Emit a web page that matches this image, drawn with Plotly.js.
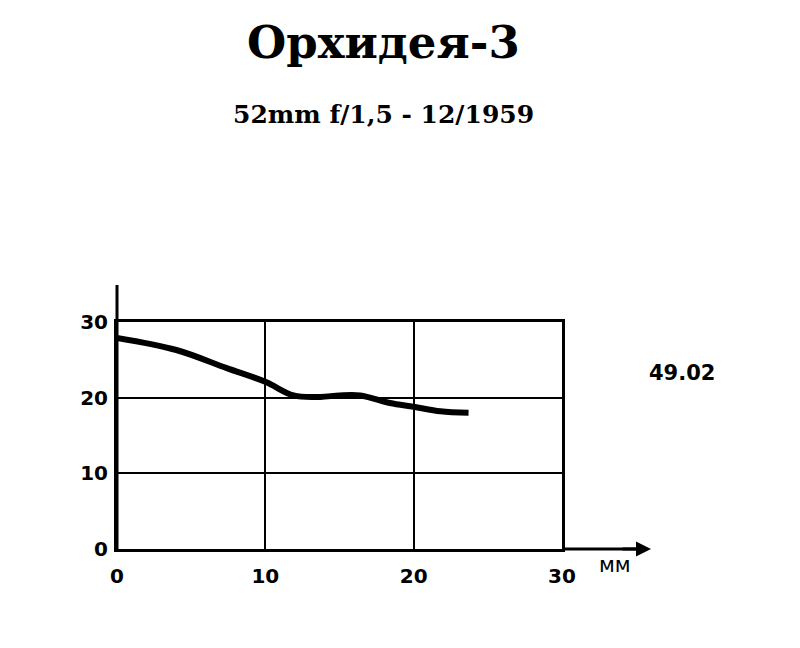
<!DOCTYPE html>
<html>
<head>
<meta charset="utf-8">
<script src="https://cdn.plot.ly/plotly-3.0.1.min.js"></script>
<style>html,body{margin:0;padding:0;background:#fff;}#chart{width:800px;height:648px;}</style>
</head>
<body>
<div id="chart"></div>
<script>
const fieldMm = [0, 4.0, 7.4, 10.0, 11.9, 13.7, 15.0, 16.4, 18.4, 20.0, 21.8, 23.7];
const resolution = [27.9, 26.3, 23.9, 22.1, 20.3, 20.1, 20.3, 20.3, 19.3, 18.8, 18.2, 18.0];
const xTicks = [0, 10, 20, 30];
const yTicks = [0, 10, 20, 30];
const titleText = "Орхидея-3";
const subtitleText = "52mm f/1,5 - 12/1959";
const noteText = "49.02";
const unitText = "мм";

const handFont = {family: "DejaVu Sans", size: 20, color: "#000", weight: "bold"};

const trace = {
  x: fieldMm, y: resolution, type: "scatter", mode: "lines",
  line: {color: "#000", width: 6, shape: "spline", smoothing: 1.0},
  hoverinfo: "skip", showlegend: false
};

const layout = {
  width: 800, height: 648,
  paper_bgcolor: "#fff", plot_bgcolor: "#fff",
  margin: {l: 117, r: 238, t: 322, b: 99},
  showlegend: false,
  xaxis: {
    range: [0, 30], tickvals: xTicks, ticktext: xTicks.map(String),
    showgrid: true, gridcolor: "#000", gridwidth: 2,
    zeroline: false, showline: true, linecolor: "#000", linewidth: 3, mirror: true,
    ticks: "", tickfont: handFont, ticklabelstandoff: 7, fixedrange: true
  },
  yaxis: {
    range: [0, 30], tickvals: yTicks, ticktext: yTicks.map(String),
    showgrid: true, gridcolor: "#000", gridwidth: 2,
    zeroline: false, showline: true, linecolor: "#000", linewidth: 3, mirror: true,
    ticks: "", tickfont: handFont, ticklabelstandoff: 2, fixedrange: true
  },
  shapes: [
    {type: "line", xref: "paper", yref: "paper", x0: 0, x1: 0, y0: 0, y1: 1.163, line: {color: "#000", width: 3}},
    {type: "line", xref: "paper", yref: "paper", x0: 1, x1: 1.19, y0: 0, y1: 0, line: {color: "#000", width: 3}}
  ],
  annotations: [
    {xref: "paper", yref: "paper", x: 0.598, y: 2.233, yanchor: "middle", xanchor: "center",
     text: "<b>" + titleText + "</b>", showarrow: false,
     font: {family: "DejaVu Serif", size: 45, color: "#000"}},
    {xref: "paper", yref: "paper", x: 0.598, y: 1.912, yanchor: "middle", xanchor: "center",
     text: "<b>" + subtitleText + "</b>", showarrow: false,
     font: {family: "DejaVu Serif", size: 25, color: "#000"}},
    {xref: "paper", yref: "paper", x: 1.2, y: 0, ax: -30, ay: 0, text: "", showarrow: true,
     arrowhead: 2, arrowsize: 1, arrowwidth: 3, arrowcolor: "#000"},
    {xref: "paper", yref: "paper", x: 1.16, y: 0, yshift: -30, text: unitText, showarrow: false,
     font: {family: "DejaVu Sans", size: 21, color: "#000"}},
    {xref: "paper", yref: "y", x: 1.27, y: 23.2, xanchor: "center", text: "<b>" + noteText + "</b>", showarrow: false,
     font: {family: "DejaVu Sans", size: 21, color: "#000"}}
  ]
};

Plotly.newPlot("chart", [trace], layout, {displayModeBar: false, staticPlot: true});
</script>
</body>
</html>
